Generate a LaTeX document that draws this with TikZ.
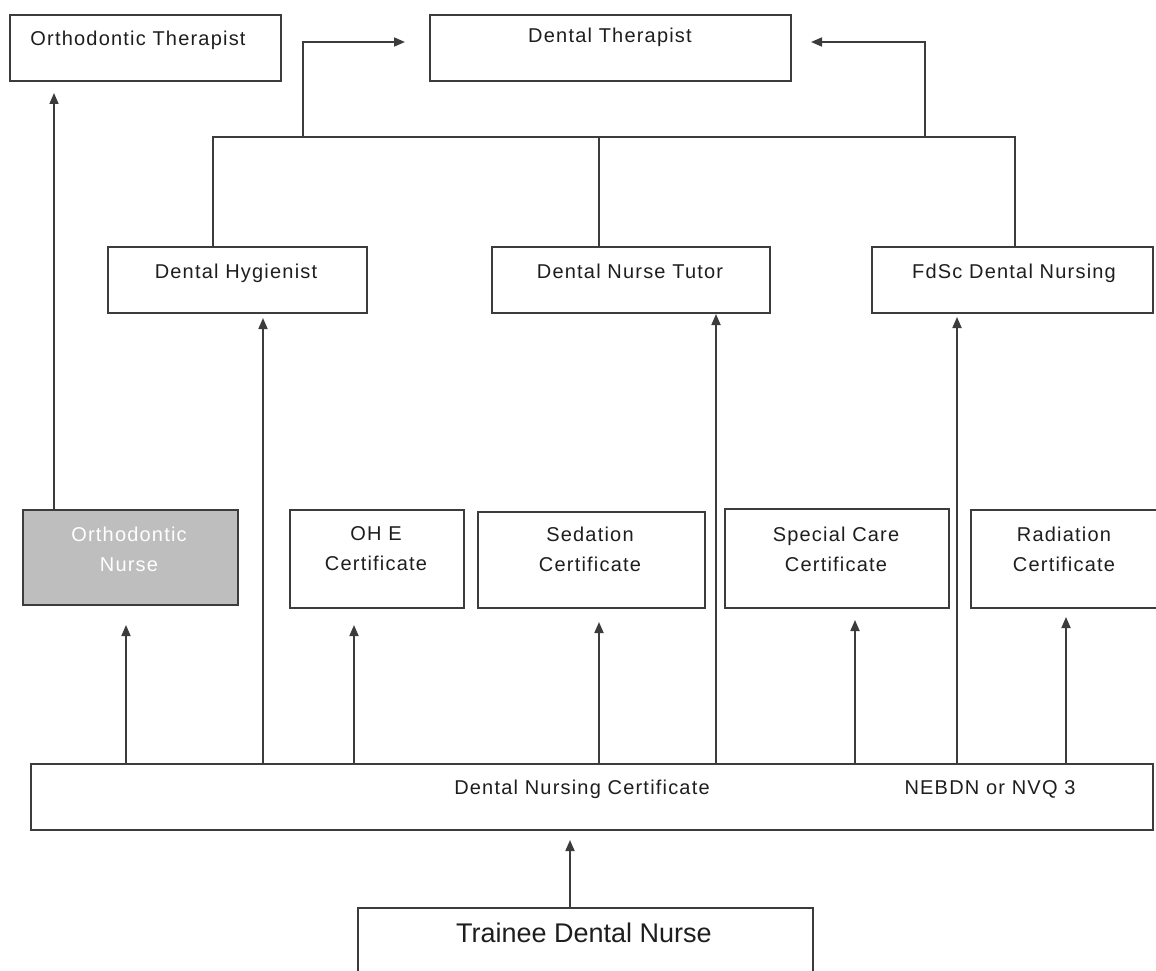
\documentclass[tikz,border=0pt]{standalone}
\usepackage{fontspec}
\setmainfont{Liberation Sans}
\usetikzlibrary{arrows.meta}
\definecolor{ln}{HTML}{3C3C3C}
\definecolor{txt}{HTML}{1E1E1E}
\definecolor{grayfill}{HTML}{BEBEBE}
\tikzset{
  box/.style={draw=ln, line width=1.7pt, fill=white, inner sep=0pt, anchor=north west},
  graybox/.style={box, fill=grayfill},
  lbl/.style={text=txt, inner sep=0pt, anchor=base,
    font=\fontsize{20}{30}\selectfont\addfontfeature{LetterSpace=6}},
  lbltwo/.style={text=txt, inner sep=0pt, align=center,
    font=\fontsize{20}{30}\selectfont\addfontfeature{LetterSpace=6}},
  biglbl/.style={text=txt, inner sep=0pt, anchor=base, font=\fontsize{27}{32}\selectfont},
  conn/.style={draw=ln, line width=1.7pt},
  arr/.style={conn, -{Triangle[length=11pt,width=9pt]}},
}
\begin{document}
\begin{tikzpicture}[x=1pt,y=-1pt]
\useasboundingbox (0,0) rectangle (1156,971);
\fill[white] (0,0) rectangle (1156,971);
\clip (0,0) rectangle (1156,971);

% boxes
\node[box, minimum width=271pt, minimum height=66pt] (ot) at (9,14) {};
\node[box, minimum width=361pt, minimum height=66pt] (dt) at (429,14) {};
\node[box, minimum width=259pt, minimum height=66pt] (dh) at (107,246) {};
\node[box, minimum width=278pt, minimum height=66pt] (dnt) at (491,246) {};
\node[box, minimum width=281pt, minimum height=66pt] (fd) at (871,246) {};
\node[graybox, minimum width=215pt, minimum height=95pt] (on) at (22,509) {};
\node[box, minimum width=174pt, minimum height=98pt] (ohe) at (289,509) {};
\node[box, minimum width=227pt, minimum height=96pt] (sed) at (477,511) {};
\node[box, minimum width=224pt, minimum height=99pt] (sc) at (724,508) {};
\node[box, minimum width=200pt, minimum height=98pt] (rad) at (970,509) {};
\node[box, minimum width=1122pt, minimum height=66pt] (dnc) at (30,763) {};
\node[box, minimum width=455pt, minimum height=90pt] (tdn) at (357,907) {};

% texts
\node[lbl] (tot) at (138,46) {Orthodontic Therapist};
\node[lbl] (tdt) at (610,43) {Dental Therapist};
\node[lbl] (tdh) at (236,278) {Dental Hygienist};
\node[lbl] (tdnt) at (630,278) {Dental Nurse Tutor};
\node[lbl] (tfd) at (1014,278) {FdSc Dental Nursing};
\node[lbltwo, text=white] (ton) at (129,549) {Orthodontic\\Nurse};
\node[lbltwo] (tohe) at (376,549) {OH E\\Certificate};
\node[lbltwo] (tsed) at (590,549) {Sedation\\Certificate};
\node[lbltwo] (tsc) at (836,549) {Special Care\\Certificate};
\node[lbltwo] (trad) at (1064,549) {Radiation\\Certificate};
\node[lbl] (tdnc) at (582,794) {Dental Nursing Certificate};
\node[lbl] (tneb) at (990,794) {NEBDN or NVQ 3};
\node[biglbl] (ttdn) at (584,942) {Trainee Dental Nurse};

% top bus
\coordinate (b1) at (213,137);
\coordinate (b2) at (599,137);
\coordinate (b3) at (1015,137);
\coordinate (l1) at (303,137);
\coordinate (r1) at (925,137);
\coordinate (dtL) at (405,42);
\coordinate (dtR) at (811,42);
\draw[conn] (dh.north -| b1) -- (b1) -- (b3) -- (fd.north -| b3);
\draw[conn] (b2) -- (dnt.north -| b2);
\draw[arr] (l1) |- (dtL);
\draw[arr] (r1) |- (dtR);

% orthodontic nurse to therapist
\coordinate (otT) at (54,93);
\draw[arr] (on.north -| otT) -- (otT);

% from the certificate bar
\coordinate (onT) at (126,625);
\coordinate (dhT) at (263,318);
\coordinate (oheT) at (354,625);
\coordinate (sedT) at (599,622);
\coordinate (dntT) at (716,314);
\coordinate (scT) at (855,620);
\coordinate (fdT) at (957,317);
\coordinate (radT) at (1066,617);
\foreach \t in {onT,dhT,oheT,sedT,dntT,scT,fdT,radT}
  \draw[arr] (dnc.north -| \t) -- (\t);

% trainee to certificate
\coordinate (tdnT) at (570,840);
\draw[arr] (tdn.north -| tdnT) -- (tdnT);
\end{tikzpicture}
\end{document}
